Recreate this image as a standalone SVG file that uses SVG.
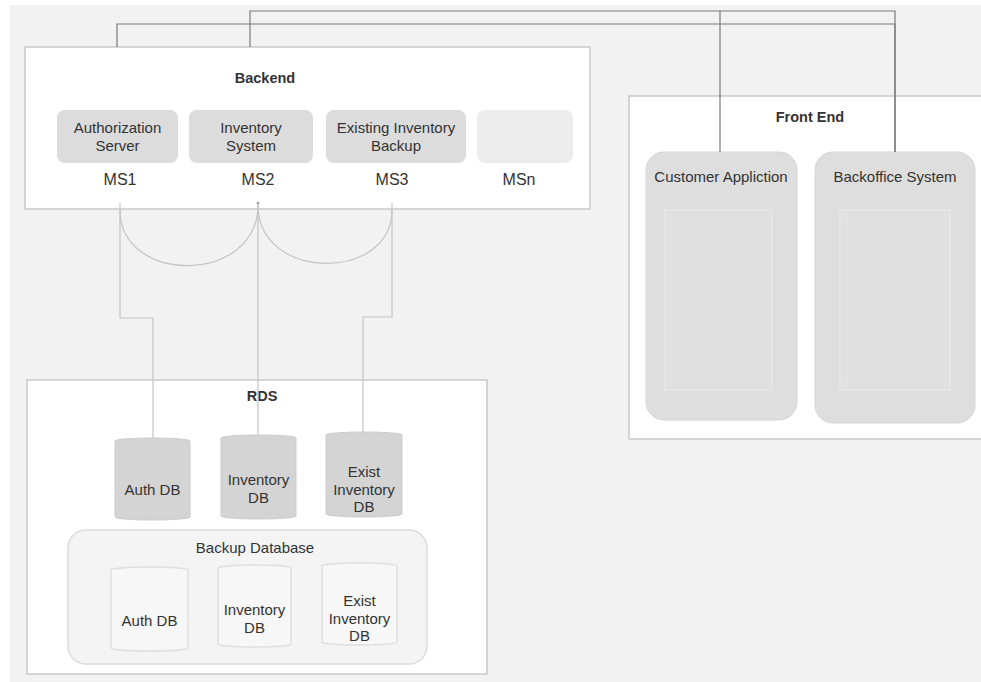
<svg xmlns="http://www.w3.org/2000/svg" width="981" height="682" viewBox="0 0 981 682">
<style>
text{font-family:"Liberation Sans",Arial,sans-serif;fill:#333333;font-size:15px;text-anchor:middle}
.h{font-weight:bold;font-size:14.5px;fill:#333}
.ms{font-size:16px}
.group{fill:#ffffff;stroke:#c9c9c9;stroke-width:1.5}
.svc{fill:#dcdcdc;stroke:none}
.fe{fill:#dedede;stroke:#d6d6d6;stroke-width:1}
.inner{fill:#e0e0e0;stroke:#e5e5e5;stroke-width:2}
.db{fill:#d4d4d4;stroke:#cbcbcb;stroke-width:1}
.bdb{fill:#f7f7f7;stroke:#e0e0e0;stroke-width:1.5}
.dark{fill:none;stroke:#7a7a7a;stroke-width:1.2}
.light{fill:none;stroke:#c4c4c4;stroke-width:1.2}
</style>
<rect x="0" y="0" width="981" height="682" fill="#ffffff"/>
<rect x="10" y="5" width="971" height="677" fill="#f2f2f2"/>

<g id="backend">
<rect class="group" x="25" y="47" width="565" height="162"/>
<text class="h" x="265" y="83">Backend</text>
</g>
<g id="ms1">
<rect class="svc" x="57" y="110" width="121" height="53" rx="8"/>
<text x="117.5" y="133">Authorization</text>
<text x="117.5" y="151">Server</text>
<text class="ms" x="120" y="185">MS1</text>
</g>
<g id="ms2">
<rect class="svc" x="189" y="110" width="124" height="53" rx="8"/>
<text x="251" y="133">Inventory</text>
<text x="251" y="151">System</text>
<text class="ms" x="258" y="185">MS2</text>
</g>
<g id="ms3">
<rect class="svc" x="326" y="110" width="140" height="53" rx="8"/>
<text x="396" y="133">Existing Inventory</text>
<text x="396" y="151">Backup</text>
<text class="ms" x="392" y="185">MS3</text>
</g>
<g id="msn">
<rect x="477" y="110" width="96" height="53" rx="8" fill="#ececec"/>
<text class="ms" x="519" y="185">MSn</text>
</g>

<g id="frontend">
<rect class="group" x="629" y="96" width="360" height="343"/>
<text class="h" x="810" y="122">Front End</text>
</g>
<g id="customer">
<rect class="fe" x="646" y="152" width="151" height="268" rx="18"/>
<rect class="inner" x="665" y="210" width="107" height="180"/>
<rect x="672" y="218" width="93" height="164" fill="none" stroke="#e3e3e3" stroke-width="1"/>
<text x="721" y="182">Customer Appliction</text>
</g>
<g id="backoffice">
<rect class="fe" x="815" y="152" width="160" height="271" rx="18"/>
<rect class="inner" x="840" y="210" width="110" height="180"/>
<rect x="847" y="218" width="96" height="164" fill="none" stroke="#e3e3e3" stroke-width="1"/>
<text x="895" y="182">Backoffice System</text>
</g>

<g id="rds">
<rect class="group" x="27" y="380" width="460" height="294"/>
<text class="h" x="262" y="401">RDS</text>
</g>
<g id="authdb">
<path class="db" d="M115,441 A37.5,3 0 0 1 190,441 V517 A37.5,3 0 0 1 115,517 Z"/>
<text x="152.5" y="495">Auth DB</text>
</g>
<g id="invdb">
<path class="db" d="M221,438 A37.5,3 0 0 1 296,438 V516 A37.5,3 0 0 1 221,516 Z"/>
<text x="258.5" y="485">Inventory</text>
<text x="258.5" y="503">DB</text>
</g>
<g id="existdb">
<path class="db" d="M326,435 A38,3 0 0 1 402,435 V514 A38,3 0 0 1 326,514 Z"/>
<text x="364" y="477">Exist</text>
<text x="364" y="495">Inventory</text>
<text x="364" y="512">DB</text>
</g>

<g id="backup">
<rect x="68" y="530" width="359" height="134" rx="18" fill="#f4f4f4" stroke="#dcdcdc" stroke-width="1.5"/>
<text x="255" y="553">Backup Database</text>
</g>
<g id="bauthdb">
<path class="bdb" d="M111,570 A38.5,3 0 0 1 188,570 V648 A38.5,3 0 0 1 111,648 Z"/>
<text x="149.5" y="626">Auth DB</text>
</g>
<g id="binvdb">
<path class="bdb" d="M218,568 A36.5,3 0 0 1 291,568 V644 A36.5,3 0 0 1 218,644 Z"/>
<text x="254.5" y="615">Inventory</text>
<text x="254.5" y="633">DB</text>
</g>
<g id="bexistdb">
<path class="bdb" d="M322,566 A37.5,3 0 0 1 397,566 V642 A37.5,3 0 0 1 322,642 Z"/>
<text x="359.5" y="606">Exist</text>
<text x="359.5" y="624">Inventory</text>
<text x="359.5" y="641">DB</text>
</g>

<g id="connectors">
<path class="dark" d="M117,47 V24 H895 V152"/>
<path class="dark" d="M250,47 V11 H895 V152"/>
<path class="dark" d="M720,11 V152"/>
<path class="light" d="M120,203 V318 H153 V438"/>
<path class="light" d="M258,202 V435"/>
<path class="light" d="M392,203 V317 H363 V432"/>
<path class="light" d="M120,210 C120,285 258,285 258,205"/>
<path class="light" d="M258,205 C258,282 392,282 392,210"/>
<circle cx="258" cy="203" r="1.5" fill="#aaa"/>
</g>
</svg>
